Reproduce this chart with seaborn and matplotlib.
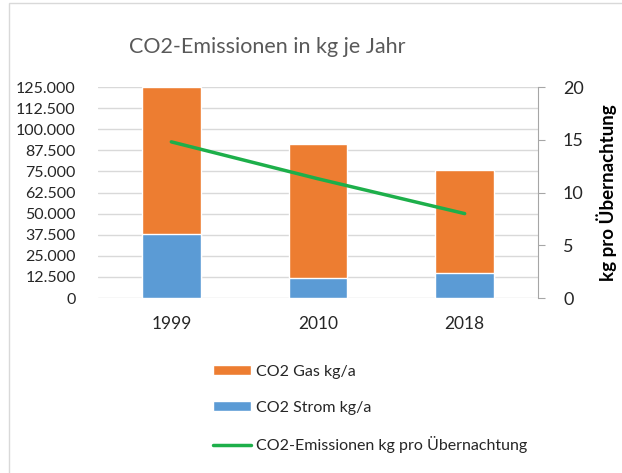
import matplotlib
matplotlib.use("Agg")
import matplotlib.pyplot as plt
import matplotlib.ticker as mticker
from matplotlib.patches import Patch, Rectangle
from matplotlib.lines import Line2D
import pandas as pd
import seaborn as sns

# values
years = ["1999", "2010", "2018"]
co2_strom = [37800, 12000, 14700]
co2_gas = [87200, 79000, 60900]
co2_pro_uebernachtung = [14.8, 11.3, 8.0]

gas_color = "#ED7D31"
strom_color = "#5B9BD5"
line_color = "#1DAF4A"
text_gray = "#595959"

df = pd.DataFrame({"year": years, "strom": co2_strom, "gas": co2_gas,
                   "per_night": co2_pro_uebernachtung})
df["total"] = df["strom"] + df["gas"]

sns.set_style("white")
plt.rcParams["font.family"] = ["Lato", "DejaVu Sans"]

fig = plt.figure(figsize=(6.22, 4.73), dpi=100)
ax = fig.add_axes([98 / 622, 1 - 298 / 473, 440 / 622, 211 / 473])

# stacked bars: total (orange) first, then the blue share on top of it
sns.barplot(data=df, x="year", y="total", color=gas_color, width=0.4,
            saturation=1, ax=ax, zorder=2)
sns.barplot(data=df, x="year", y="strom", color=strom_color, width=0.4,
            saturation=1, ax=ax, zorder=3)

ax.set_ylim(0, 125000)
ax.set_yticks(range(0, 125001, 12500))
ax.yaxis.set_major_formatter(mticker.FuncFormatter(
    lambda v, p: f"{int(v):,}".replace(",", ".")))
ax.grid(axis="y", color="#D9D9D9", linewidth=1, zorder=0)
ax.set_axisbelow(True)
for s in ax.spines.values():
    s.set_visible(False)
ax.tick_params(axis="y", length=0, labelsize=11.5, colors="#262626", pad=16)
ax.tick_params(axis="x", length=0, labelsize=12.5, colors="#262626", pad=13)
ax.set_xlabel("")
ax.set_ylabel("")

ax2 = ax.twinx()
sns.lineplot(data=df, x="year", y="per_night", color=line_color,
             linewidth=2.5, ax=ax2, zorder=4)
ax2.set_ylim(0, 20)
ax2.set_yticks([0, 5, 10, 15, 20])
for name, s in ax2.spines.items():
    s.set_visible(name == "right")
ax2.spines["right"].set_color("#A6A6A6")
ax2.tick_params(axis="y", direction="out", length=5, color="#A6A6A6",
                labelsize=13, labelcolor="#262626", pad=13)
ax2.set_ylabel("kg pro Übernachtung", fontsize=13.5, fontweight="bold",
               color="black", labelpad=9)
ax2.set_xlabel("")
ax.set_xlim(-0.5, 2.5)

fig.text(267 / 622, 1 - 47 / 473, "CO2-Emissionen in kg je Jahr",
         ha="center", va="center", fontsize=15.5, color=text_gray)

handles = [Patch(facecolor=gas_color, label="CO2 Gas kg/a"),
           Patch(facecolor=strom_color, label="CO2 Strom kg/a"),
           Line2D([0], [0], color=line_color, linewidth=2.5,
                  label="CO2-Emissionen kg pro Übernachtung")]
fig.legend(handles=handles, loc="upper left",
           bbox_to_anchor=(205 / 622, 1 - 357 / 473), frameon=False,
           fontsize=11.5, handlelength=2.4, handleheight=0.6,
           handletextpad=0.3, labelspacing=1.35, borderpad=0)

# chart border
fig.patches.append(Rectangle((9 / 622, -0.05), 1.1, 1 - 3 / 473 + 0.05,
                             transform=fig.transFigure, fill=False,
                             edgecolor="#D9D9D9", linewidth=1))

fig.savefig("out.png", dpi=100)
